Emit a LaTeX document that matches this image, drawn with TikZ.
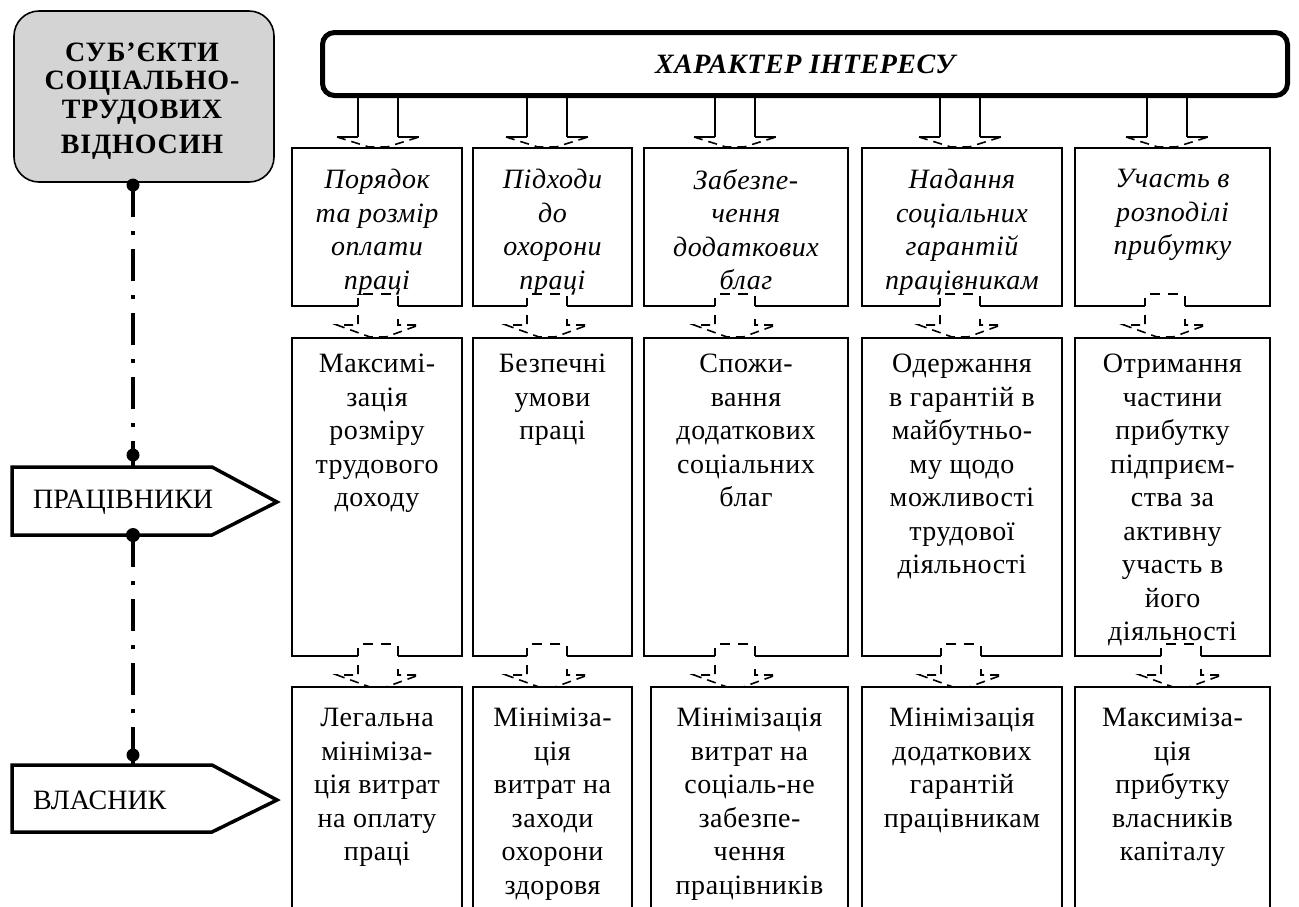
\documentclass[tikz,border=0pt]{standalone}
\usepackage{fontspec}
\setmainfont{Liberation Serif}
\newfontfamily\rowfont[LetterSpace=2]{Liberation Serif}
\newfontfamily\subjfont[LetterSpace=3]{Liberation Serif}
\newcommand\gapbox[5]{\draw[boxline] (#5-20,#4) -- (#1,#4) -- (#1,#3) -- (#2,#3) -- (#2,#4) -- (#5+20,#4);}
\newcommand\openbox[2]{\draw[boxline] (#1,912) -- (#1,687) -- (#2,687) -- (#2,912);}
\newcommand\midarrow[2]{%
  \draw[boxline] (#1-20,#2) -- (#1-20,#2-8);
  \draw[boxline] (#1+20,#2) -- (#1+20,#2-10);
  \draw[dashln, dash pattern=on 10pt off 8pt] (#1-15,#2-12) -- (#1+20,#2-12);
  \draw[dashln] (#1-20,#2+9) -- (#1-20,#2+19) -- (#1-41,#2+19) -- (#1-8,#2+31) -- (#1+8,#2+31) -- (#1+41,#2+19) -- (#1+20,#2+19) -- (#1+20,#2+8);
}
\begin{document}
\begin{tikzpicture}[x=1pt,y=-1pt,
  boxline/.style={line width=1.6pt},
  rtxt/.style={anchor=north, inner sep=0pt, align=center, font=\rowfont\fontsize{28pt}{33.5pt}\selectfont, execute at begin node=\strut},
  itxt/.style={rtxt, font=\rowfont\fontsize{28pt}{33.5pt}\selectfont\itshape},
  dashln/.style={line width=1.6pt, dash pattern=on 9pt off 6pt},
  wing/.style={line width=2.4pt},
  dotline/.style={line width=4pt, dash pattern=on 32pt off 14pt on 4pt off 14pt},
  pent/.style={line width=3.5pt, line join=miter},
  ptxt/.style={anchor=west, inner sep=0pt, font=\fontsize{28pt}{30pt}\selectfont},
]
\useasboundingbox (0,0) rectangle (1299,906);
\fill[white] (0,0) rectangle (1299,906);
\clip (0,0) rectangle (1299,906);

% arrows from the top bar
\foreach \c in {378,547,735,960,1167}{
  \draw[boxline] (\c-20,96) -- (\c-20,137);
  \draw[boxline] (\c+20,96) -- (\c+20,137);
  \draw[wing] (\c-20,137) -- (\c-41,137);
  \draw[wing] (\c+20,137) -- (\c+41,137);
  \draw[dashln] (\c-41,137) -- (\c-9,147) -- (\c+9,147) -- (\c+41,137);
}

% top bar
\node[draw, line width=5pt, rounded corners=12pt, minimum width=965pt, minimum height=63pt,
      fill=white, inner sep=0pt, font=\rowfont\fontsize{28pt}{30pt}\selectfont\bfseries\itshape]
      (bar) at (805,64) {ХАРАКТЕР ІНТЕРЕСУ};

% row 1 boxes
\gapbox{292}{462}{148}{306}{378}
\gapbox{473}{632}{148}{306}{547}
\gapbox{644}{848}{148}{306}{735}
\gapbox{862}{1062}{148}{306}{960}
\gapbox{1075}{1270}{148}{306}{1165}
% row 2 boxes
\gapbox{292}{462}{338}{656}{378}
\gapbox{473}{632}{338}{656}{547}
\gapbox{644}{848}{338}{656}{735}
\gapbox{862}{1062}{338}{656}{961}
\gapbox{1075}{1270}{338}{656}{1181}
% row 3 boxes
\openbox{292}{462}
\openbox{473}{632}
\openbox{651}{848}
\openbox{862}{1062}
\openbox{1075}{1270}

% arrows between rows
\midarrow{378}{306}
\midarrow{547}{306}
\midarrow{735}{306}
\midarrow{960}{306}
\midarrow{1165}{306}
\midarrow{378}{656}
\midarrow{547}{656}
\midarrow{735}{656}
\midarrow{961}{656}
\midarrow{1181}{656}

% row 1 texts
\node[itxt] (a1) at (377,169) {Порядок\\та розмір\\оплати\\праці};
\node[itxt] (a2) at (552.5,169) {Підходи\\до\\охорони\\праці};
\node[itxt] (a3) at (746,169) {Забезпе-\\чення\\додаткових\\благ};
\node[itxt] (a4) at (962,169) {Надання\\соціальних\\гарантій\\працівникам};
\node[itxt] (a5) at (1172.5,169) {Участь в\\розподілі\\прибутку};

% row 2 texts
\node[rtxt] (b1) at (377,354) {Максимі-\\зація\\розміру\\трудового\\доходу};
\node[rtxt] (b2) at (552.5,354) {Безпечні\\умови\\праці};
\node[rtxt] (b3) at (746,354) {Спожи-\\вання\\додаткових\\соціальних\\благ};
\node[rtxt] (b4) at (962,354) {Одержання\\в гарантій в\\майбутньо-\\му щодо\\можливості\\трудової\\діяльності};
\node[rtxt] (b5) at (1172.5,354) {Отримання\\частини\\прибутку\\підприєм-\\ства за\\активну\\участь в\\його\\діяльності};

% row 3 texts
\node[rtxt] (c1) at (377,708) {Легальна\\мініміза-\\ція витрат\\на оплату\\праці};
\node[rtxt] (c2) at (552.5,708) {Мініміза-\\ція\\витрат на\\заходи\\охорони\\здоровя};
\node[rtxt] (c3) at (749.5,708) {Мінімізація\\витрат на\\соціаль-не\\забезпе-\\чення\\працівників};
\node[rtxt] (c4) at (962,708) {Мінімізація\\додаткових\\гарантій\\працівникам};
\node[rtxt] (c5) at (1172.5,708) {Максиміза-\\ція\\прибутку\\власників\\капіталу};

% left side
\node[draw, line width=1.6pt, fill=black!17, rounded corners=25pt, minimum width=260pt,
      minimum height=171pt, inner sep=0pt] (subj) at (144,96.5) {};
\node[align=center, inner sep=0pt, font=\subjfont\fontsize{28pt}{28.5pt}\selectfont\bfseries]
      (subjtxt) at (142,101) {СУБ’ЄКТИ\\СОЦІАЛЬНО-\\ТРУДОВИХ\\[7pt]ВІДНОСИН};

\draw[pent] (12,467) -- (212,467) -- (277,502) -- (212,535) -- (12,535) -- cycle;
\node[ptxt] (prac) at (33,502) {ПРАЦІВНИКИ};
\draw[pent] (12,765) -- (212,765) -- (277,800) -- (212,832) -- (12,832) -- cycle;
\node[ptxt] (vlas) at (33,800) {ВЛАСНИК};

\coordinate (s) at (133,185);
\coordinate (pt) at (133,455);
\coordinate (ptb) at (133,467);
\coordinate (pb) at (133,535);
\coordinate (vt) at (133,755);
\coordinate (vtb) at (133,765);
\draw[dotline] (s) -- (pt);
\draw[line width=4pt] (pt) -- (ptb);
\draw[dotline] (pb) -- (vt);
\draw[line width=4pt] (vt) -- (vtb);
\fill (s) circle (6.5pt);
\fill (pt) circle (6.5pt);
\fill (pb) circle (7pt);
\fill (vt) circle (6.5pt);
\end{tikzpicture}
\end{document}
